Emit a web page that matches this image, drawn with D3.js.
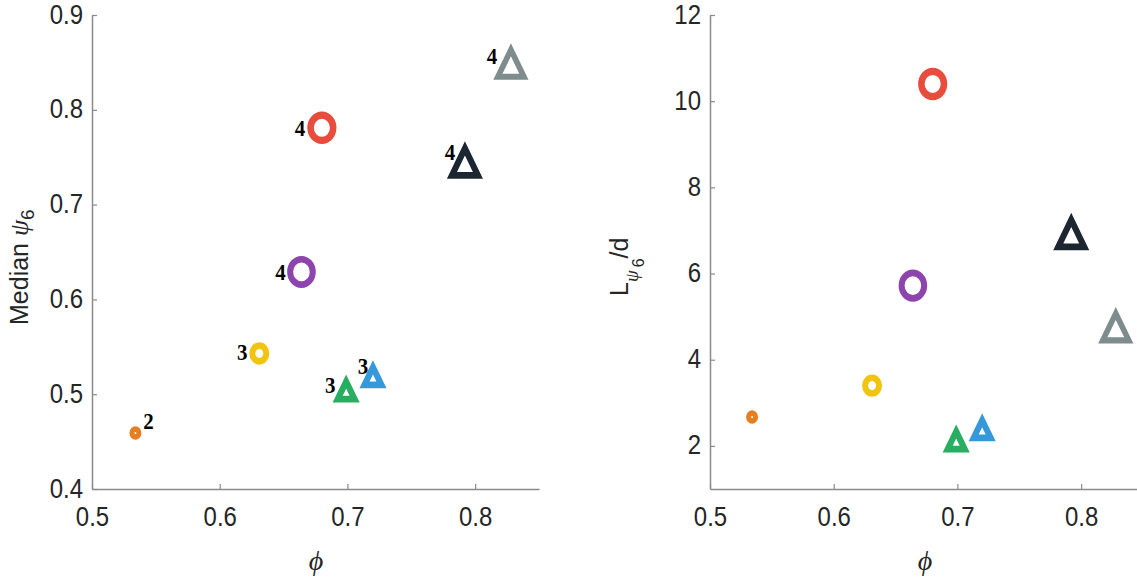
<!DOCTYPE html>
<html>
<head>
<meta charset="utf-8">
<script src="https://cdn.jsdelivr.net/npm/d3@7"></script>
<style>
  body { margin: 0; background: #fff; }
  svg { display: block; }
</style>
</head>
<body>
<svg id="chart" width="1137" height="581"></svg>
<script>
// ---- data ----
const phi      = [0.534, 0.631, 0.664, 0.680, 0.699, 0.720, 0.792, 0.828];
const medianPsi = [0.459, 0.543, 0.629, 0.781, 0.504, 0.519, 0.745, 0.849];
const lengthPsi = [2.67, 3.40, 5.72, 10.40, 2.13, 2.39, 6.93, 4.76];
const pointLabels = ["2", "3", "4", "4", "3", "3", "4", "4"];
const shapes = ["circle", "circle", "circle", "circle", "triangle", "triangle", "triangle", "triangle"];
const xTicks = [0.5, 0.6, 0.7, 0.8];
const yTicksLeft = [0.4, 0.5, 0.6, 0.7, 0.8, 0.9];
const yTicksRight = [2, 4, 6, 8, 10, 12];

// ---- styles ----
const colors = ["#E67E22", "#F1C40F", "#8E44AD", "#E74C3C", "#27AE60", "#3498DB", "#1B2631", "#7F8C8D"];
const markerSize = [3.5, 7, 11.3, 11.3, 8.5, 8.5, 13, 13];   // circle path radius / triangle half-width
const markerStroke = [5, 6, 6, 6.5, 6, 6, 6, 5.5];
const labelOffset = [[13, -11], [-17, 0], [-21, 1], [-22, 1], [-16, -4], [-10, -9], [-15, -9], [-19, -6]];
const SY = 1.12; // vertical stretch of the original figure

const svg = d3.select("#chart");
const axisColor = "#8a8a8a";
const textColor = "#262626";

function triPath(s) {
  const top = -s * 1.1, bot = s * 0.75, shift = s * 0.17;
  return `M0,${top + shift}L${s},${bot + shift}L${-s},${bot + shift}Z`;
}

function panel(cfg) {
  const g = svg.append("g");
  const x = d3.scaleLinear().domain([0.5, 0.85]).range(cfg.xr);
  const y = d3.scaleLinear().domain(cfg.yd).range([489, 15]);

  const xa = g.append("g").attr("transform", "translate(0,489)")
    .call(d3.axisBottom(x).tickValues(xTicks).tickSizeInner(-5).tickSizeOuter(0).tickPadding(0).tickFormat(d3.format(".1f")));
  const ya = g.append("g").attr("transform", `translate(${cfg.xr[0]},0)`)
    .call(d3.axisLeft(y).tickValues(cfg.yt).tickSizeInner(-5).tickSizeOuter(0).tickPadding(0).tickFormat(cfg.fmt));
  [xa, ya].forEach(a => {
    a.select(".domain").attr("stroke", axisColor).attr("stroke-width", 1.5);
    a.selectAll(".tick line").attr("stroke", axisColor).attr("stroke-width", 1.2);
    a.selectAll(".tick text").attr("fill", textColor)
      .style("font-family", "'Liberation Sans', Arial, sans-serif").style("font-size", "24px");
  });
  xa.selectAll(".tick text").attr("y", null).attr("dy", null)
    .attr("transform", `translate(0,37) scale(1,${SY})`);
  ya.selectAll(".tick text").attr("x", null).attr("dy", null)
    .attr("transform", `translate(-9,8) scale(1,${SY})`);

  // x label
  g.append("text").attr("x", cfg.xlabX).attr("y", 570)
    .attr("text-anchor", "middle").attr("fill", textColor)
    .style("font-family", "'Liberation Serif', 'DejaVu Serif', serif").style("font-style", "italic").style("font-size", "28px")
    .text("\u03D5");

  // markers
  const m = g.append("g").selectAll("g").data(phi).join("g")
    .attr("transform", (d, i) => `translate(${x(d)},${y(cfg.vals[i])}) scale(1,${SY})`);
  m.each(function (d, i) {
    const s = d3.select(this);
    if (shapes[i] === "circle") {
      s.append("circle").attr("r", markerSize[i]);
    } else {
      s.append("path").attr("d", triPath(markerSize[i])).attr("stroke-linejoin", "miter");
    }
    s.select("*").attr("fill", "none").attr("stroke", colors[i]).attr("stroke-width", markerStroke[i]);
  });

  if (cfg.labels) {
    g.append("g").selectAll("text").data(phi).join("text")
      .attr("transform", (d, i) => `translate(${x(d) + labelOffset[i][0]},${y(cfg.vals[i]) + labelOffset[i][1] + 7}) scale(1,${SY})`)
      .attr("text-anchor", "middle").attr("fill", "#000")
      .style("font-family", "'Liberation Serif', 'Times New Roman', serif").style("font-weight", "bold").style("font-size", "21px")
      .text((d, i) => pointLabels[i]);
  }
  return g;
}

panel({ xr: [92, 539], yd: [0.4, 0.9], yt: yTicksLeft, fmt: d3.format(".1f"), vals: medianPsi, labels: true, xlabX: 316 });
panel({ xr: [710, 1143], yd: [1, 12], yt: yTicksRight, fmt: d3.format("d"), vals: lengthPsi, labels: false, xlabX: 925 });

// y labels
const yl1 = svg.append("text").attr("transform", `translate(28,325) rotate(-90)`)
  .attr("fill", textColor).style("font-family", "'Liberation Sans', Arial, sans-serif").style("font-size", "25px");
yl1.append("tspan").text("Median ");
yl1.append("tspan").style("font-family", "'Liberation Serif', serif").style("font-style", "italic").style("font-size", "26px").text("\u03C8");
yl1.append("tspan").attr("dy", 6).style("font-size", "19px").text("6");

const yl2 = svg.append("text").attr("transform", `translate(628,296) rotate(-90)`)
  .attr("fill", textColor).style("font-family", "'Liberation Sans', Arial, sans-serif").style("font-size", "25px");
yl2.append("tspan").text("L");
yl2.append("tspan").attr("dy", 10).style("font-family", "'Liberation Serif', serif").style("font-style", "italic").style("font-size", "19px").text("\u03C8");
yl2.append("tspan").attr("dy", 6).attr("dx", 3).style("font-size", "16px").text("6");
yl2.append("tspan").attr("dy", -16).style("font-size", "25px").text("/d");
</script>
</body>
</html>
